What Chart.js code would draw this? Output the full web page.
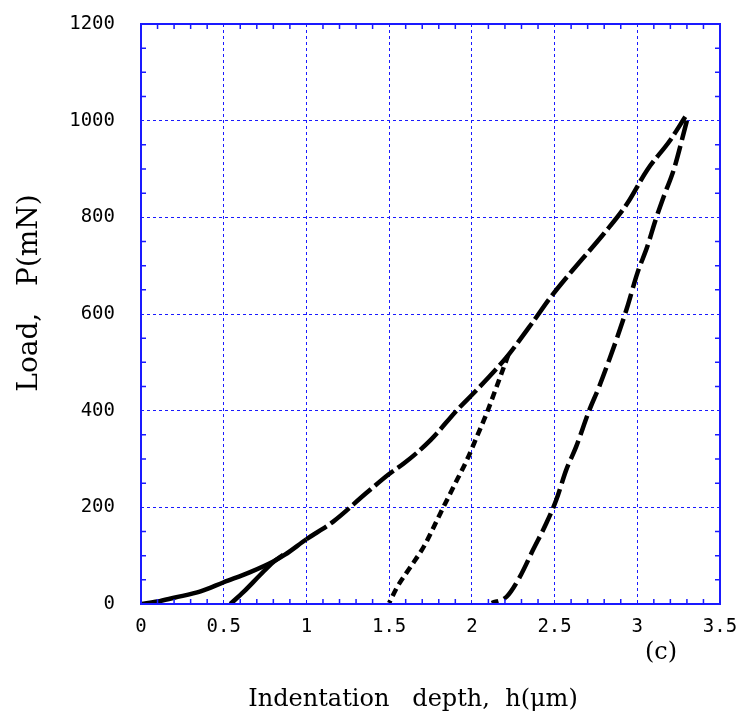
<!DOCTYPE html>
<html>
<head>
<meta charset="utf-8">
<script src="https://cdn.jsdelivr.net/npm/chart.js@4.4.0/dist/chart.umd.min.js"></script>
<style>
  body { margin: 0; background: #fff; }
  #grafico { display: block; }
</style>
</head>
<body>
<canvas id="grafico" width="738" height="720"></canvas>
<script>
// curva de carga (h em um, P em mN)
const loadDepth = [0, 0.1, 0.2, 0.36, 0.5, 0.66, 0.8, 0.87, 1.0, 1.16, 1.36, 1.5, 1.59, 1.75, 1.91, 2.01, 2.16, 2.22, 2.37, 2.47, 2.61, 2.80, 2.94, 3.06, 3.20, 3.29];
const loadForce = [0, 5, 13, 26, 45, 66, 88, 102, 134, 170, 229, 269, 291, 339, 401, 436, 491, 515, 584, 632, 691, 767, 829, 898, 960, 1008];

// descargas parciais
const unload1Depth = [0.86, 0.80, 0.72, 0.62, 0.54];
const unload1Force = [102, 87, 60, 25, 0];
const unload2Depth = [2.22, 2.15, 2.09, 2.03, 1.97, 1.89, 1.81, 1.71, 1.63, 1.55, 1.50];
const unload2Force = [515, 450, 395, 346, 298, 243, 188, 119, 77, 36, 2];
const unload3Depth = [3.30, 3.22, 3.16, 3.11, 3.06, 3.00, 2.94, 2.88, 2.83, 2.77, 2.71, 2.63, 2.57, 2.51, 2.45, 2.37, 2.29, 2.21, 2.12];
const unload3Force = [1000, 898, 843, 794, 739, 684, 615, 553, 505, 450, 401, 325, 277, 215, 167, 112, 56, 15, 2];

// eixos
const xTicks = [0, 0.5, 1, 1.5, 2, 2.5, 3, 3.5];
const yTicks = [0, 200, 400, 600, 800, 1000, 1200];
const xTitle = "Indentation   depth,  h(\u03bcm)";
const yTitle = "Load,   P(mN)";
const panelLabel = "(c)";

const azul = "#1a1aff";

function pares(xs, ys) {
    return xs.map((x, i) => ({ x: x, y: ys[i] }));
}

// moldura, ticks menores e textos dos eixos
const moldura = {
    id: "moldura",
    afterDraw(chart) {
        const { ctx, chartArea: a, scales } = chart;
        const sx = scales.x, sy = scales.y;
        ctx.save();
        ctx.strokeStyle = azul;
        ctx.lineWidth = 1.5;
        ctx.beginPath();
        for (let i = 0; i <= 35; i++) {
            if (i % 5 === 0) continue;
            const px = sx.getPixelForValue(i / 10);
            ctx.moveTo(px, a.bottom); ctx.lineTo(px, a.bottom - 5);
            ctx.moveTo(px, a.top); ctx.lineTo(px, a.top + 5);
        }
        for (let v = 50; v < 1200; v += 50) {
            if (v % 200 === 0) continue;
            const py = sy.getPixelForValue(v);
            ctx.moveTo(a.left, py); ctx.lineTo(a.left + 5, py);
            ctx.moveTo(a.right, py); ctx.lineTo(a.right - 5, py);
        }
        ctx.stroke();
        ctx.lineWidth = 2;
        ctx.strokeRect(a.left, a.top, a.right - a.left, a.bottom - a.top);

        ctx.fillStyle = "#000";
        ctx.textAlign = "center";
        ctx.textBaseline = "alphabetic";
        ctx.font = "24px 'DejaVu Serif'";
        ctx.fillText(xTitle, 413, 706);
        ctx.fillText(panelLabel, 661, 659);

        ctx.font = "28px 'DejaVu Serif'";
        ctx.translate(37, 293);
        ctx.rotate(-Math.PI / 2);
        ctx.fillText(yTitle, 0, 0);
        ctx.restore();
    }
};

const fonteTicks = { family: "'DejaVu Sans Mono'", size: 19 };

new Chart(document.getElementById("grafico"), {
    type: "scatter",
    data: {
        datasets: [
            {
                label: "carga",
                data: pares(loadDepth, loadForce),
                segment: { borderDash: ctx => ctx.p0.parsed.x < 0.95 ? [] : [24, 5] }
            },
            { label: "descarga 1", data: pares(unload1Depth, unload1Force) },
            { label: "descarga 2", data: pares(unload2Depth, unload2Force), borderDash: [8, 5] },
            { label: "descarga 3", data: pares(unload3Depth, unload3Force), borderDash: [20, 6] }
        ].map(d => Object.assign({
            showLine: true,
            borderColor: "#000",
            backgroundColor: "#000",
            borderWidth: 4.5,
            pointRadius: 0,
            cubicInterpolationMode: "monotone",
            borderJoinStyle: "round"
        }, d))
    },
    options: {
        responsive: false,
        animation: false,
        devicePixelRatio: 1,
        layout: { padding: { top: 24, right: 18, left: 0, bottom: 0 } },
        plugins: { legend: { display: false }, tooltip: { enabled: false } },
        scales: {
            x: {
                type: "linear",
                min: 0,
                max: 3.5,
                afterBuildTicks: s => { s.ticks = xTicks.map(v => ({ value: v })); },
                afterFit: s => { s.height = 116; s.paddingLeft = 0; s.paddingRight = 0; },
                grid: { color: azul, lineWidth: 1, drawTicks: false },
                border: { display: false, dash: [3, 3] },
                ticks: {
                    color: "#000",
                    font: fonteTicks,
                    padding: 12,
                    maxRotation: 0,
                    callback: v => String(v)
                }
            },
            y: {
                type: "linear",
                min: 0,
                max: 1200,
                afterBuildTicks: s => { s.ticks = yTicks.map(v => ({ value: v })); },
                afterFit: s => { s.width = 141; s.paddingTop = 0; s.paddingBottom = 0; },
                grid: { color: azul, lineWidth: 1, drawTicks: false },
                border: { display: false, dash: [3, 3] },
                ticks: {
                    color: "#000",
                    font: fonteTicks,
                    padding: 26,
                    callback: v => String(v)
                }
            }
        }
    },
    plugins: [moldura]
});
</script>
</body>
</html>
